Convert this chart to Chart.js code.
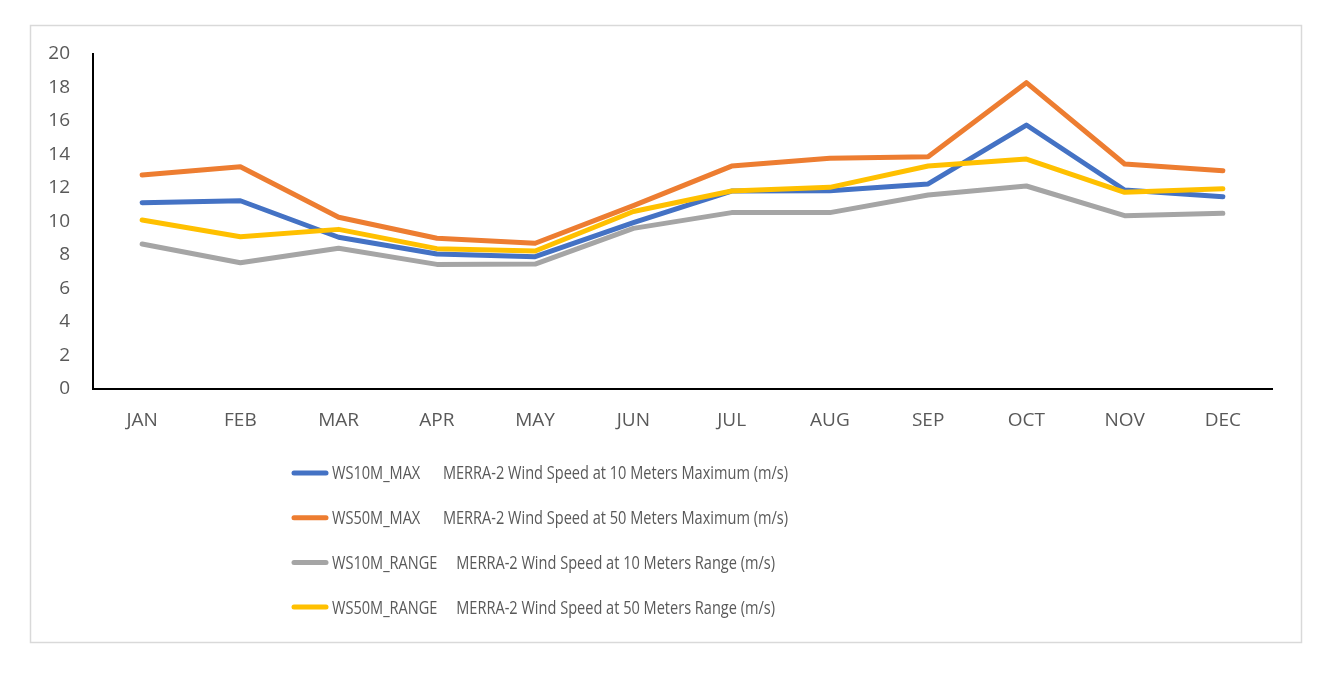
<!DOCTYPE html>
<html>
<head>
<meta charset="utf-8">
<script src="https://cdn.jsdelivr.net/npm/chart.js@4.4.1/dist/chart.umd.min.js"></script>
<style>
  html, body { margin: 0; padding: 0; background: #ffffff; }
  #wrap { position: absolute; left: 0; top: 0; width: 1332px; height: 678px; }
</style>
</head>
<body>
<div id="wrap"><canvas id="c" width="1332" height="678"></canvas></div>
<script>
const months = ['JAN','FEB','MAR','APR','MAY','JUN','JUL','AUG','SEP','OCT','NOV','DEC'];
const seriesLabels = [
  'WS10M_MAX      MERRA-2 Wind Speed at 10 Meters Maximum (m/s)',
  'WS50M_MAX      MERRA-2 Wind Speed at 50 Meters Maximum (m/s)',
  'WS10M_RANGE     MERRA-2 Wind Speed at 10 Meters Range (m/s)',
  'WS50M_RANGE     MERRA-2 Wind Speed at 50 Meters Range (m/s)'
];
const ws10mMax   = [11.12, 11.24, 9.06, 8.06, 7.90, 9.93, 11.82, 11.84, 12.24, 15.76, 11.88, 11.48];
const ws50mMax   = [12.78, 13.27, 10.25, 9.00, 8.70, 10.95, 13.31, 13.77, 13.87, 18.29, 13.43, 13.03];
const ws10mRange = [8.66, 7.54, 8.40, 7.44, 7.46, 9.59, 10.53, 10.53, 11.58, 12.12, 10.35, 10.49];
const ws50mRange = [10.09, 9.09, 9.53, 8.38, 8.24, 10.60, 11.82, 12.04, 13.31, 13.73, 11.74, 11.96];
const colors = ['#4472C4', '#ED7D31', '#A5A5A5', '#FFC000'];

const FONT = "'Open Sans', 'Liberation Sans', sans-serif";
const TEXT = '#595959';

const frame = {
  id: 'frame',
  beforeDraw(chart) {
    const ctx = chart.ctx;
    ctx.save();
    ctx.fillStyle = '#ffffff';
    ctx.fillRect(0, 0, chart.width, chart.height);
    ctx.strokeStyle = '#d9d9d9';
    ctx.lineWidth = 1.5;
    ctx.strokeRect(30.5, 25.5, 1271, 617);
    ctx.restore();
  }
};

const legendRows = {
  id: 'legendRows',
  afterDraw(chart) {
    const ctx = chart.ctx;
    ctx.save();
    const x0 = 294, x1 = 326, tx = 332, y0 = 473, dy = 44.7, targetW = 456;
    ctx.font = '19px ' + FONT;
    ctx.textBaseline = 'middle';
    ctx.textAlign = 'left';
    const w = ctx.measureText(chart.data.datasets[0].label).width;
    const sx = Math.min(1, targetW / w);
    chart.data.datasets.forEach((ds, i) => {
      const y = y0 + i * dy;
      ctx.strokeStyle = ds.borderColor;
      ctx.lineWidth = 5;
      ctx.lineCap = 'round';
      ctx.beginPath();
      ctx.moveTo(x0, y);
      ctx.lineTo(x1, y);
      ctx.stroke();
      ctx.save();
      ctx.translate(tx, y + 1);
      ctx.scale(sx, 1);
      ctx.fillStyle = TEXT;
      ctx.fillText(ds.label, 0, 0);
      ctx.restore();
    });
    ctx.restore();
  }
};

const dataSets = [ws10mMax, ws50mMax, ws10mRange, ws50mRange].map((d, i) => ({
  label: seriesLabels[i],
  data: d,
  borderColor: colors[i],
  backgroundColor: colors[i],
  borderWidth: 5,
  pointRadius: 0,
  pointHoverRadius: 0,
  tension: 0,
  fill: false,
  borderCapStyle: 'round',
  borderJoinStyle: 'round',
  order: 4 - i
}));

new Chart(document.getElementById('c'), {
  type: 'line',
  data: { labels: months, datasets: dataSets },
  options: {
    responsive: false,
    animation: false,
    devicePixelRatio: 1,
    layout: { padding: { left: 30, top: 54, right: 60, bottom: 229 } },
    plugins: {
      legend: { display: false },
      tooltip: { enabled: false },
      title: { display: false }
    },
    scales: {
      x: {
        type: 'category',
        offset: true,
        grid: { display: false, drawTicks: false },
        border: { display: true, color: '#000000', width: 2 },
        ticks: { color: TEXT, font: { family: FONT, size: 19 }, padding: 20, maxRotation: 0, autoSkip: false },
        afterFit(s) { s.height = 60; }
      },
      y: {
        min: 0, max: 20,
        grid: { display: false, drawTicks: false },
        border: { display: true, color: '#000000', width: 2 },
        ticks: { stepSize: 2, color: TEXT, font: { family: FONT, size: 19 }, padding: 23 },
        afterFit(s) { s.width = 63; }
      }
    }
  },
  plugins: [frame, legendRows]
});
</script>
</body>
</html>
